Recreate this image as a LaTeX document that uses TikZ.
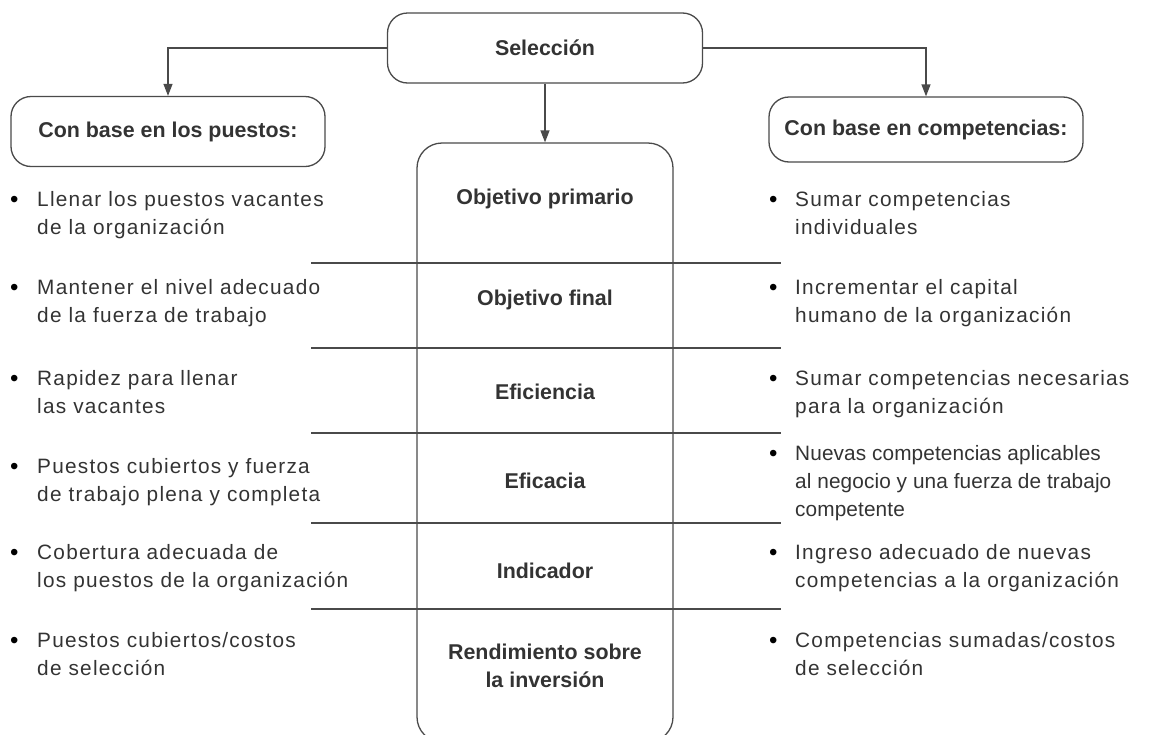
\documentclass[tikz,border=0pt]{standalone}
\usepackage{fontspec}
\setmainfont{Liberation Sans}
\newfontfamily\bodyfont[LetterSpace=6]{Liberation Sans}
\newfontfamily\tightfont[LetterSpace=0.5]{Liberation Sans}
\usetikzlibrary{arrows.meta}
\definecolor{txtc}{HTML}{333333}
\definecolor{linec}{HTML}{4A4A4A}
\newcommand{\lns}[1]{\begin{tabular}[t]{@{}l@{}}#1\end{tabular}}
\tikzset{
  box/.style={draw=linec, line width=1.3pt, rounded corners=20pt, fill=white, inner sep=0pt},
  lbl/.style={font=\fontsize{21.4}{28}\selectfont\bfseries, text=txtc, align=center},
  txt/.style={font=\bodyfont\fontsize{20.8}{28}\selectfont, text=txtc, anchor=base west, inner sep=0pt},
  bul/.style={font=\fontsize{24}{28}\selectfont, text=black, anchor=base west, inner sep=0pt},
  arr/.style={draw=linec, line width=1.3pt, -{Triangle[width=9pt,length=12pt]}},
  sep/.style={draw=linec, line width=1.4pt}
}
\begin{document}
\begin{tikzpicture}[x=1pt,y=-1pt]
\useasboundingbox (0,0) rectangle (1151,734);
% top boxes
\node[box, lbl, minimum width=315, minimum height=70] (sel) at (545,48) {Selección};
\node[box, lbl, minimum width=314, minimum height=70] (lbox) at (168,131.5) {Con base en los puestos:};
\node[box, lbl, minimum width=314, minimum height=65] (rbox) at (926,129.5) {Con base en competencias:};
% central column box
\node[draw=linec, line width=1.3pt, rounded corners=25pt, minimum width=256, minimum height=599, inner sep=0pt] (mid) at (545,442.5) {};
% arrows
\draw[arr] (sel.west) -| (lbox.north);
\draw[arr] (sel.east) -| (rbox.north);
\draw[arr] (sel.south) -- (mid.north);
% separators
\foreach \yy in {263,348,433,523,609} \draw[sep] (311,\yy) -- (781,\yy);
% row labels
\node[lbl] (r1) at (545,199) {Objetivo primario};
\node[lbl] (r2) at (545,300) {Objetivo final};
\node[lbl] (r3) at (545,392) {Eficiencia};
\node[lbl] (r4) at (545,481) {Eficacia};
\node[lbl] (r5) at (545,571) {Indicador};
\node[lbl] (r6) at (545,666) {Rendimiento sobre\\la inversión};
% left column
\foreach \yy in {206,294,385,473,559,647} \node[bul] at (9.8,\yy+1.6) {•};
\node[txt] (l1) at (37,206) {\lns{Llenar los puestos vacantes\\de la organización}};
\node[txt] (l2) at (37,294) {\lns{Mantener el nivel adecuado\\de la fuerza de trabajo}};
\node[txt] (l3) at (37,385) {\lns{Rapidez para llenar\\las vacantes}};
\node[txt] (l4) at (37,473) {\lns{Puestos cubiertos y fuerza\\de trabajo plena y completa}};
\node[txt] (l5) at (37,559) {\lns{Cobertura adecuada de\\los puestos de la organización}};
\node[txt] (l6) at (37,647) {\lns{Puestos cubiertos/costos\\de selección}};
% right column
\foreach \yy in {206,294,385,460,559,647} \node[bul] at (768.8,\yy+1.6) {•};
\node[txt] (q1) at (795,206) {\lns{Sumar competencias\\individuales}};
\node[txt] (q2) at (795,294) {\lns{Incrementar el capital\\humano de la organización}};
\node[txt] (q3) at (795,385) {\lns{Sumar competencias necesarias\\para la organización}};
\node[txt, font=\tightfont\fontsize{20.8}{28}\selectfont] (q4) at (795,460) {\lns{Nuevas competencias aplicables\\al negocio y una fuerza de trabajo\\competente}};
\node[txt] (q5) at (795,559) {\lns{Ingreso adecuado de nuevas\\competencias a la organización}};
\node[txt] (q6) at (795,647) {\lns{Competencias sumadas/costos\\de selección}};
\end{tikzpicture}
\end{document}
